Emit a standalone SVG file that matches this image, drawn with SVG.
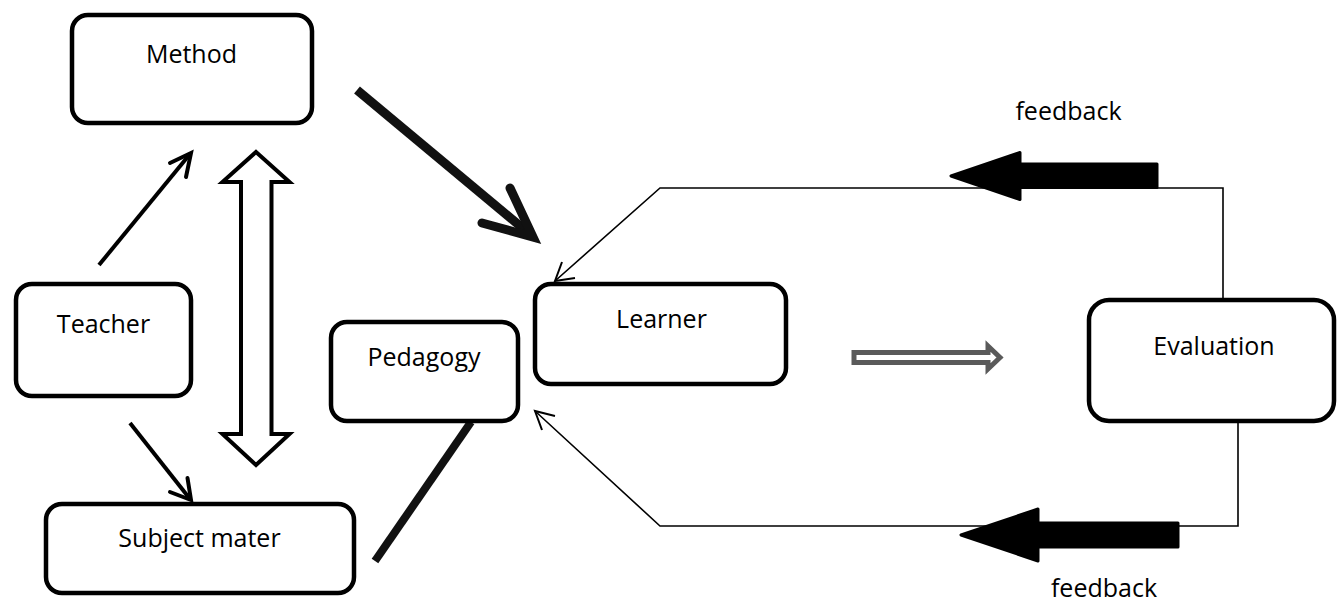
<svg xmlns="http://www.w3.org/2000/svg" width="1337" height="605" viewBox="0 0 1337 605">
  <style>
    .box { fill: #ffffff; stroke: #000000; stroke-width: 4.5; }
    .label { font-family: "Open Sans", "Liberation Sans", sans-serif; font-size: 25px; fill: #000000; text-anchor: middle; }
    .thin { fill: none; stroke: #000000; stroke-width: 1.6; }
    .med { fill: none; stroke: #000000; stroke-width: 4; stroke-linecap: butt; }
    .medhead { fill: none; stroke: #000000; stroke-width: 4; stroke-linejoin: miter; stroke-linecap: round; }
    .heavy { fill: none; stroke: #111111; stroke-width: 9; stroke-linecap: butt; }
    .heavyhead { fill: none; stroke: #111111; stroke-width: 9; stroke-linejoin: miter; stroke-linecap: round; }
    .block { fill: #000000; stroke: #000000; stroke-width: 3; stroke-linejoin: round; }
    .hollow { fill: #ffffff; stroke: #000000; stroke-width: 4; stroke-linejoin: miter; }
    .grey { fill: #ffffff; stroke: #5a5a5a; stroke-width: 5; stroke-linejoin: miter; }
  </style>
  <rect width="1337" height="605" fill="#ffffff"/>

  <!-- connectors -->
  <g id="connectors">
    <!-- Teacher to Method -->
    <line class="med" x1="99" y1="265" x2="190" y2="154"/>
    <path class="medhead" d="M170,163 L191,153 L186,177"/>
    <!-- Teacher to Subject mater -->
    <line class="med" x1="130" y1="423" x2="190" y2="499"/>
    <path class="medhead" d="M170,492 L191,500 L187.5,478"/>
    <!-- Method and Subject mater: two-way hollow arrow -->
    <polygon class="hollow" points="256,152 289.5,182 271.5,182 271.5,434 289.5,434 256,465 222.5,434 241,434 241,182 222.5,182"/>
    <!-- Method to Learner: heavy arrow -->
    <line class="heavy" x1="357" y1="90" x2="526" y2="231"/>
    <path class="heavyhead" d="M510,188 L533,237 L482,223"/>
    <!-- Pedagogy to Subject mater: heavy bar -->
    <line class="heavy" x1="471" y1="422" x2="375" y2="561" style="stroke-width:8"/>
    <!-- Learner to Evaluation: grey double-line arrow -->
    <polygon class="grey" points="854,352.5 988,352.5 988,346 1000,357.5 988,369 988,362.5 854,362.5"/>
    <!-- upper feedback loop -->
    <polyline class="thin" points="1223,300 1223,188 660,188 555,281"/>
    <path class="thin" d="M562,262 L555,281 L575,278" style="stroke-width:2"/>
    <polygon class="block" points="1157,164 1020,164 1020,152.5 951,176 1020,199.5 1020,187.5 1157,187.5"/>
    <!-- lower feedback loop -->
    <polyline class="thin" points="1238,421 1238,526 660,526 535,411"/>
    <path class="thin" d="M542,430 L535,411 L555,416" style="stroke-width:2"/>
    <polygon class="block" points="1178,523 1038,523 1038,509 961,535 1038,561 1038,547 1178,547"/>
  </g>

  <g id="method">
    <rect class="box" x="72" y="15" width="240" height="108" rx="16"/>
    <text class="label" x="191.5" y="63">Method</text>
  </g>
  <g id="teacher">
    <rect class="box" x="16" y="284" width="175" height="112" rx="16"/>
    <text class="label" x="103.5" y="333">Teacher</text>
  </g>
  <g id="pedagogy">
    <rect class="box" x="331" y="322" width="187" height="99" rx="16"/>
    <text class="label" x="424" y="366">Pedagogy</text>
  </g>
  <g id="subject-mater">
    <rect class="box" x="46" y="504" width="308" height="89" rx="16"/>
    <text class="label" x="199.5" y="547">Subject mater</text>
  </g>
  <g id="learner">
    <rect class="box" x="535" y="284" width="251" height="100" rx="16"/>
    <text class="label" x="661.5" y="328">Learner</text>
  </g>
  <g id="evaluation">
    <rect class="box" x="1089" y="300" width="245" height="121" rx="20"/>
    <text class="label" x="1214" y="355">Evaluation</text>
  </g>
  <g id="feedback-labels">
    <text class="label" x="1068.5" y="120">feedback</text>
    <text class="label" x="1104" y="597">feedback</text>
  </g>
</svg>
